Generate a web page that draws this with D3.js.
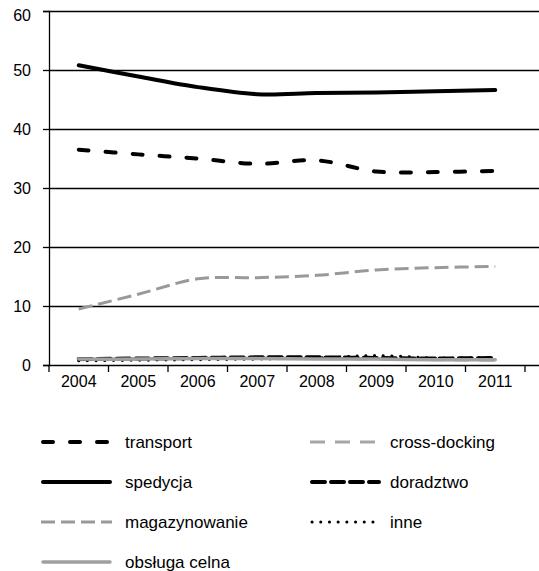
<!DOCTYPE html>
<html>
<head>
<meta charset="utf-8">
<script src="https://cdn.jsdelivr.net/npm/d3@7"></script>
<style>
  html, body { margin: 0; padding: 0; background: #fff; }
  svg { display: block; font-family: "Liberation Sans", Arial, sans-serif; }
</style>
</head>
<body>
<svg id="chart" width="539" height="571"></svg>
<script>
// Years on the horizontal axis
const years = ["2004", "2005", "2006", "2007", "2008", "2009", "2010", "2011"];
const yTicks = [0, 10, 20, 30, 40, 50, 60];

// Series values (%)
const transport     = [36.5, 35.7, 35.0, 34.1, 34.7, 32.8, 32.7, 32.9];
const crossDocking  = [0.9, 1.0, 1.1, 1.2, 1.1, 1.0, 0.9, 0.8];
const spedycja      = [50.8, 48.9, 47.1, 45.9, 46.1, 46.2, 46.4, 46.6];
const doradztwo     = [1.0, 1.1, 1.2, 1.3, 1.3, 1.2, 1.1, 1.2];
const magazynowanie = [9.5, 12.0, 14.6, 14.8, 15.2, 16.1, 16.5, 16.7];
const inne          = [0.7, 0.8, 0.9, 1.0, 1.2, 1.6, 1.2, 1.3];
const obslugaCelna  = [1.0, 1.0, 1.1, 1.1, 1.0, 1.0, 0.9, 0.9];

const seriesNames = ["transport", "cross-docking", "spedycja", "doradztwo",
                     "magazynowanie", "inne", "obsługa celna"];
const seriesValues = [transport, crossDocking, spedycja, doradztwo,
                      magazynowanie, inne, obslugaCelna];

// Line styles per series
const styles = [
  { color: "#000",    width: 4,   dash: "10,17",  cap: "round" },
  { color: "#a6a6a6", width: 3,   dash: "15,10",  cap: "butt" },
  { color: "#000",    width: 4,   dash: null,     cap: "round" },
  { color: "#000",    width: 4,   dash: "13,6",   cap: "round" },
  { color: "#999",    width: 3,   dash: "14,6",   cap: "butt" },
  { color: "#000",    width: 3,   dash: "0.1,8.6", cap: "round" },
  { color: "#a0a0a0", width: 3.5, dash: null,     cap: "round" }
];

const svg = d3.select("#chart");

const plot = { left: 49, right: 539, top: 11, bottom: 365 };

const x = d3.scaleBand().domain(years).range([49, 525]);
const y = d3.scaleLinear().domain([0, 60]).range([plot.bottom, plot.top]);

// Horizontal gridlines
svg.append("g")
  .selectAll("line")
  .data(yTicks.filter(d => d > 0))
  .join("line")
  .attr("x1", plot.left).attr("x2", plot.right)
  .attr("y1", d => Math.round(y(d)) + 0.5).attr("y2", d => Math.round(y(d)) + 0.5)
  .attr("stroke", "#000").attr("stroke-width", 1.3);

// Y axis
const yAxis = svg.append("g")
  .attr("transform", `translate(${plot.left},0)`)
  .call(d3.axisLeft(y).tickValues(yTicks).tickSize(6).tickPadding(12).tickFormat(d3.format("d")));
yAxis.select(".domain").attr("stroke", "#000").attr("stroke-width", 1.3);
yAxis.selectAll(".tick line").attr("stroke-width", 1.3);
yAxis.selectAll(".tick text")
  .attr("font-size", 16).attr("fill", "#000")
  .attr("dy", d => d === 60 ? "0.6em" : "0.32em");

// X axis: ticks at band edges
const xAxisG = svg.append("g").attr("transform", `translate(0,${plot.bottom})`);
xAxisG.append("line")
  .attr("x1", plot.left).attr("x2", plot.right)
  .attr("y1", 0.5).attr("y2", 0.5)
  .attr("stroke", "#000").attr("stroke-width", 1.3);
const edges = years.map(d => x(d)).concat([x(years[years.length - 1]) + x.bandwidth()]);
xAxisG.selectAll("line.tk")
  .data(edges)
  .join("line")
  .attr("class", "tk")
  .attr("x1", d => d).attr("x2", d => d)
  .attr("y1", 0).attr("y2", 7)
  .attr("stroke", "#000").attr("stroke-width", 1.3);
xAxisG.selectAll("text")
  .data(years)
  .join("text")
  .attr("x", d => x(d) + x.bandwidth() / 2)
  .attr("y", 22)
  .attr("text-anchor", "middle")
  .attr("font-size", 16)
  .attr("fill", "#000")
  .text(d => d);

// Series lines
const line = d3.line()
  .x((d, i) => x(years[i]) + x.bandwidth() / 2)
  .y(d => y(d))
  .curve(d3.curveCardinal.tension(0));

svg.append("g")
  .selectAll("path")
  .data(seriesValues)
  .join("path")
  .attr("d", d => line(d))
  .attr("fill", "none")
  .attr("stroke", (d, i) => styles[i].color)
  .attr("stroke-width", (d, i) => styles[i].width)
  .attr("stroke-dasharray", (d, i) => styles[i].dash)
  .attr("stroke-linecap", (d, i) => styles[i].cap)
  .attr("stroke-linejoin", "round");

// Legend in two columns, row-major order
const legend = svg.append("g");
const colX = [41, 310];
const rowY = [442, 482, 522, 562];
const item = legend.selectAll("g")
  .data(seriesNames)
  .join("g")
  .attr("transform", (d, i) => `translate(${colX[i % 2]},${rowY[Math.floor(i / 2)]})`);
item.append("line")
  .attr("x1", (d, i) => styles[i].cap === "round" ? 2 : 0)
  .attr("x2", (d, i) => styles[i].cap === "round" ? 69 : 71)
  .attr("y1", 0).attr("y2", 0)
  .attr("stroke", (d, i) => styles[i].color)
  .attr("stroke-width", (d, i) => styles[i].width)
  .attr("stroke-dasharray", (d, i) => styles[i].dash)
  .attr("stroke-linecap", (d, i) => styles[i].cap);
item.append("text")
  .attr("x", (d, i) => i % 2 === 0 ? 84 : 80)
  .attr("y", 6)
  .attr("font-size", 17)
  .attr("fill", "#000")
  .text(d => d);
</script>
</body>
</html>
